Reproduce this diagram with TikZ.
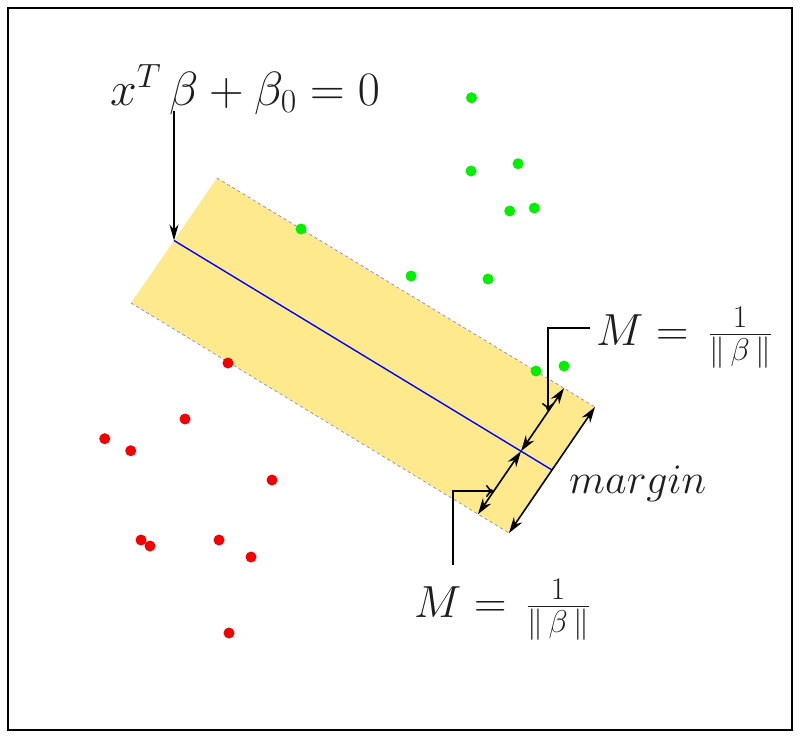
\RequirePackage{fix-cm}
\documentclass[tikz,border=0pt]{standalone}
\usetikzlibrary{arrows.meta,calc}
\definecolor{bandyellow}{RGB}{254,234,140}
\definecolor{dotgreen}{RGB}{0,240,0}
\definecolor{dotred}{RGB}{245,0,0}
\definecolor{inkgray}{RGB}{30,30,30}
\tikzset{
  dimarrow/.style={line width=1.6pt,{Stealth[length=16pt,width=10pt]}-{Stealth[length=16pt,width=10pt]}},
  pointer/.style={line width=1.6pt,-{To[length=8pt,width=12pt]}},
  pointerfilled/.style={line width=1.6pt,-{Stealth[length=16pt,width=9pt]}},
  edgeline/.style={blue!55,line width=0.6pt,dash pattern=on 3pt off 3pt},
  greendot/.style={fill=dotgreen},
  reddot/.style={fill=dotred},
  bigmath/.style={inner sep=0pt,text=inkgray,font=\fontsize{45}{54}\selectfont},
}
\begin{document}
\begin{tikzpicture}[x=1pt,y=-1pt]
\useasboundingbox (0,0) rectangle (802,737);
\draw[line width=2pt] (8,8) rectangle (792,730);
% band
\coordinate (A) at (217,178);
\coordinate (B) at (595,407);
\coordinate (C) at (509,533);
\coordinate (D) at (131,303);
\coordinate (L1) at ($(A)!0.5!(D)$);
\coordinate (L2) at ($(B)!0.5!(C)$);
\fill[bandyellow] (A) -- (B) -- (C) -- (D) -- cycle;
\draw[edgeline] (A) -- (B);
\draw[edgeline] (D) -- (C);
\draw[blue,line width=1.4pt] (L1) -- (L2);
% dots
\foreach \p in {(471.5,97.7),(471,171),(518,163.7),(509.7,211),(534.3,208),(301,229),(411,276),(488,279),(536,371),(564,366)}
  \fill[greendot] \p circle (5.5);
\foreach \p in {(228,363),(185,419),(104.7,438.7),(130.7,450.7),(272,480),(141,540),(150,546),(219,540),(251,557),(229,633)}
  \fill[reddot] \p circle (5.5);
% inner arrows
\coordinate (P) at ($(A)!0.918!(B)$);
\coordinate (Q) at ($(D)!0.918!(C)$);
\coordinate (Mid) at ($(P)!0.5!(Q)$);
\draw[dimarrow] (P) -- (Mid);
\draw[dimarrow] (Mid) -- (Q);
\draw[dimarrow] (B) -- (C);
% labels
\node[bigmath,anchor=base,font=\fontsize{48}{56}\selectfont] (eq) at (245,105) {$x^T\,\beta+\beta_0=0$};
\node[bigmath,anchor=base west] (mtop) at (596,345) {$M=\,\frac{1}{\|\,\beta\,\|}$};
\node[bigmath,anchor=base west] (mbot) at (414,617) {$M=\,\frac{1}{\|\,\beta\,\|}$};
\node[bigmath,anchor=base west,font=\fontsize{42}{50}\selectfont] (marg) at (569,493) {$margin$};
% pointers
\coordinate (eqfoot) at (174,111);
\draw[pointerfilled] (eqfoot) -- (L1);
\coordinate (t1) at (590,328);
\coordinate (t2) at (548,328);
\coordinate (t3) at (548,411);
\draw[pointer] (t1) -- (t2) -- (t3);
\coordinate (b1) at (453,565);
\coordinate (b2) at (453,491);
\coordinate (b3) at (494,491);
\draw[pointer] (b1) -- (b2) -- (b3);
\end{tikzpicture}
\end{document}
